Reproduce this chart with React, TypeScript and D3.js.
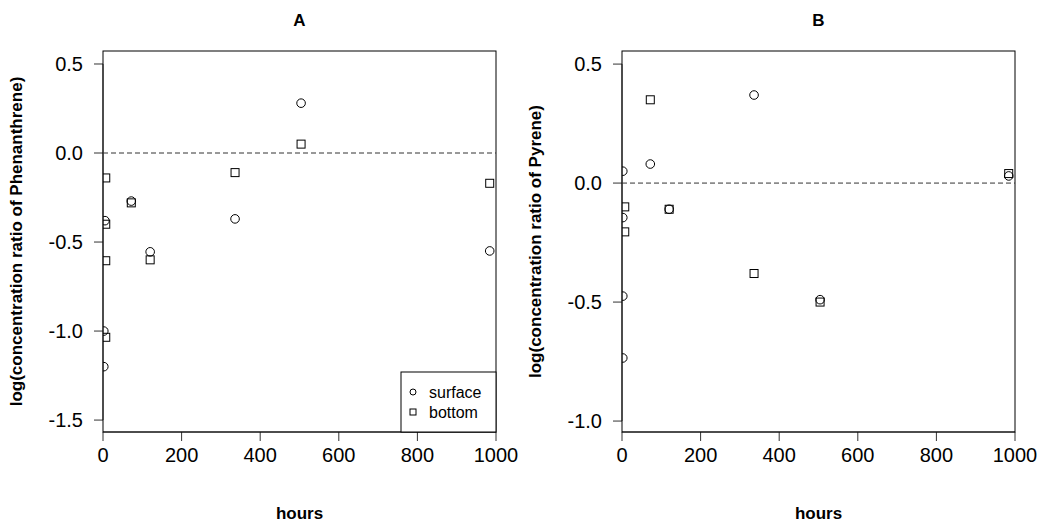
import * as d3 from 'd3';

// hours and log ratios
const hoursASurface = [2, 2, 5, 72, 120, 336, 504, 984];
const valuesASurface = [-1.2, -1.0, -0.38, -0.27, -0.555, -0.37, 0.28, -0.55];
const hoursABottom = [7, 7, 7, 7, 72, 120, 336, 504, 984];
const valuesABottom = [-0.14, -0.4, -0.605, -1.035, -0.28, -0.6, -0.11, 0.05, -0.17];

const hoursBSurface = [2, 2, 2, 2, 72, 120, 336, 504, 984];
const valuesBSurface = [0.05, -0.145, -0.475, -0.735, 0.08, -0.11, 0.37, -0.49, 0.03];
const hoursBBottom = [7, 7, 72, 120, 336, 504, 984];
const valuesBBottom = [-0.1, -0.205, 0.35, -0.11, -0.38, -0.5, 0.04];

const xTicks = [0, 200, 400, 600, 800, 1000];
const yTicksA = [0.5, 0, -0.5, -1, -1.5];
const yTicksB = [0.5, 0, -0.5, -1];
const legendLabels = ['surface', 'bottom'];

const FONT = "'Liberation Sans', Arial, sans-serif";

type PanelProps = {
  id: string;
  title: string;
  yLabel: string;
  left: number;
  yDomain: [number, number];
  yTicks: number[];
  surfX: number[];
  surfY: number[];
  botX: number[];
  botY: number[];
  legend?: boolean;
};

const top = 51;
const bottom = 432;
const plotW = 393;

// R style labels use a plain hyphen for the minus sign
const fmt = (v: number) => d3.format('.1f')(v).replace('\u2212', '-');

const Panel = ({ id, title, yLabel, left, yDomain, yTicks, surfX, surfY, botX, botY, legend }: PanelProps) => {
  const right = left + plotW;
  const x = d3.scaleLinear().domain([0, 1000]).range([left, right]);
  const y = d3.scaleLinear().domain(yDomain).range([bottom, top]);
  const tick = 9;

  return (
    <g>
      <defs>
        <clipPath id={`clip-${id}`}>
          <rect x={left} y={top} width={plotW} height={bottom - top} />
        </clipPath>
      </defs>
      <text x={(left + right) / 2} y={26} textAnchor="middle" fontFamily={FONT} fontWeight="bold" fontSize={17}>
        {title}
      </text>

      {/* y axis */}
      <line x1={left} x2={left} y1={y(yTicks[0])} y2={y(yTicks[yTicks.length - 1])} stroke="#333" />
      {yTicks.map((t) => (
        <g key={t}>
          <line x1={left - tick} x2={left} y1={y(t)} y2={y(t)} stroke="#333" />
          <text x={left - 20} y={y(t)} dy="0.36em" textAnchor="end" fontFamily={FONT} fontSize={20}>
            {fmt(t)}
          </text>
        </g>
      ))}
      <text
        transform={`translate(${left - 81},${(top + bottom) / 2}) rotate(-90)`}
        textAnchor="middle"
        fontFamily={FONT}
        fontWeight="bold"
        fontSize={17}
      >
        {yLabel}
      </text>

      {/* x axis */}
      <line x1={x(0)} x2={x(1000)} y1={bottom} y2={bottom} stroke="#333" />
      {xTicks.map((t) => (
        <g key={t}>
          <line x1={x(t)} x2={x(t)} y1={bottom} y2={bottom + tick} stroke="#333" />
          <text x={x(t)} y={bottom + 30} textAnchor="middle" fontFamily={FONT} fontSize={20}>
            {t}
          </text>
        </g>
      ))}
      <text x={(left + right) / 2} y={519} textAnchor="middle" fontFamily={FONT} fontWeight="bold" fontSize={17}>
        hours
      </text>

      <rect x={left} y={top} width={plotW} height={bottom - top} fill="none" stroke="#000" />

      <line x1={left} x2={right} y1={y(0)} y2={y(0)} stroke="#333" strokeDasharray="5,3" />

      <g clipPath={`url(#clip-${id})`} fill="none" stroke="#000" strokeWidth={1}>
        {surfX.map((h, i) => (
          <circle key={`s${i}`} cx={x(h)} cy={y(surfY[i])} r={4.3} />
        ))}
        {botX.map((h, i) => (
          <rect key={`b${i}`} x={x(h) - 4} y={y(botY[i]) - 4} width={8} height={8} />
        ))}
      </g>

      {legend && (
        <g>
          <rect x={right - 95} y={bottom - 60} width={95} height={60} fill="#fff" stroke="#000" />
          {legendLabels.map((lab, i) => (
            <g key={lab}>
              {i === 0 ? (
                <circle cx={right - 83} cy={bottom - 40 + i * 20} r={3} fill="none" stroke="#000" />
              ) : (
                <rect x={right - 86} y={bottom - 43 + i * 20} width={6} height={6} fill="none" stroke="#000" />
              )}
              <text x={right - 67} y={bottom - 40 + i * 20} dy="0.36em" fontFamily={FONT} fontSize={16}>
                {lab}
              </text>
            </g>
          ))}
        </g>
      )}
    </g>
  );
};

export default function App() {
  return (
    <svg
      width={1044}
      height={522}
      style={{ position: 'absolute', left: 0, top: 0, background: '#fff' }}
    >
      <rect width={1044} height={522} fill="#fff" />
      <Panel
        id="a"
        title="A"
        yLabel="log(concentration ratio of Phenanthrene)"
        left={103}
        yDomain={[-1.567, 0.573]}
        yTicks={yTicksA}
        surfX={hoursASurface}
        surfY={valuesASurface}
        botX={hoursABottom}
        botY={valuesABottom}
        legend
      />
      <Panel
        id="b"
        title="B"
        yLabel="log(concentration ratio of Pyrene)"
        left={622}
        yDomain={[-1.046, 0.555]}
        yTicks={yTicksB}
        surfX={hoursBSurface}
        surfY={valuesBSurface}
        botX={hoursBBottom}
        botY={valuesBBottom}
      />
    </svg>
  );
}
